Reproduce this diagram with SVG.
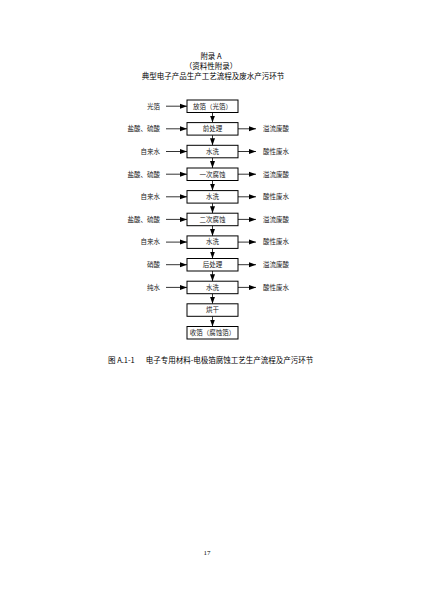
<svg xmlns="http://www.w3.org/2000/svg" width="422" height="596" viewBox="0 0 422 596">
<style>
.bg{fill:#fff}
.box{fill:#fff;stroke:#000;stroke-width:1}
.t{font-family:"Noto Sans CJK SC","Noto Sans",sans-serif;font-size:6.5px;fill:#222}
.c{text-anchor:middle}
.r{text-anchor:end}
.h{font-family:"Noto Sans CJK SC","Noto Sans",sans-serif;font-size:7.5px;fill:#000;text-anchor:middle}
.cap{font-family:"Noto Sans CJK SC","Noto Sans",sans-serif;font-size:7.5px;fill:#000}
.pg{font-family:"Liberation Serif",serif;font-size:7px;fill:#000;text-anchor:middle}
.ln{stroke:#000;stroke-width:0.8;fill:none;marker-end:url(#ah)}
</style>
<defs>
<marker id="ah" markerUnits="userSpaceOnUse" markerWidth="7" markerHeight="6" refX="7" refY="3" orient="auto">
<path d="M0,0.5 L7,3 L0,5.5 z" fill="#000"/>
</marker>
</defs>
<rect class="bg" x="0" y="0" width="422" height="596"/>
<g id="title">
<text class="h" x="211" y="58.6">附录 A</text>
<text class="h" x="211" y="68.6">（资料性附录）</text>
<text class="h" x="213" y="78.6">典型电子产品生产工艺流程及废水产污环节</text>
</g>
<g id="connectors">
<line class="ln" x1="212.5" y1="112.5" x2="212.5" y2="122.6"/>
<line class="ln" x1="212.5" y1="135.1" x2="212.5" y2="145.3"/>
<line class="ln" x1="212.5" y1="157.8" x2="212.5" y2="168"/>
<line class="ln" x1="212.5" y1="180.5" x2="212.5" y2="190.6"/>
<line class="ln" x1="212.5" y1="203.1" x2="212.5" y2="213.2"/>
<line class="ln" x1="212.5" y1="225.7" x2="212.5" y2="235.9"/>
<line class="ln" x1="212.5" y1="248.4" x2="212.5" y2="258.5"/>
<line class="ln" x1="212.5" y1="271" x2="212.5" y2="281.2"/>
<line class="ln" x1="212.5" y1="293.7" x2="212.5" y2="303.8"/>
<line class="ln" x1="212.5" y1="316.3" x2="212.5" y2="326.5"/>
<line class="ln" x1="166" y1="106.2" x2="187" y2="106.2"/>
<line class="ln" x1="166" y1="128.8" x2="187" y2="128.8"/>
<line class="ln" x1="166" y1="151.5" x2="187" y2="151.5"/>
<line class="ln" x1="166" y1="174.2" x2="187" y2="174.2"/>
<line class="ln" x1="166" y1="196.8" x2="187" y2="196.8"/>
<line class="ln" x1="166" y1="219.4" x2="187" y2="219.4"/>
<line class="ln" x1="166" y1="242.1" x2="187" y2="242.1"/>
<line class="ln" x1="166" y1="264.7" x2="187" y2="264.7"/>
<line class="ln" x1="166" y1="287.4" x2="187" y2="287.4"/>
<line class="ln" x1="238" y1="128.8" x2="256" y2="128.8"/>
<line class="ln" x1="238" y1="151.5" x2="256" y2="151.5"/>
<line class="ln" x1="238" y1="174.2" x2="256" y2="174.2"/>
<line class="ln" x1="238" y1="196.8" x2="256" y2="196.8"/>
<line class="ln" x1="238" y1="219.4" x2="256" y2="219.4"/>
<line class="ln" x1="238" y1="242.1" x2="256" y2="242.1"/>
<line class="ln" x1="238" y1="264.7" x2="256" y2="264.7"/>
<line class="ln" x1="238" y1="287.4" x2="256" y2="287.4"/>
</g>
<g id="inputs">
<text class="t r" x="160" y="108.5">光箔</text>
<text class="t r" x="160" y="131.1">盐酸、硫酸</text>
<text class="t r" x="160" y="153.8">自来水</text>
<text class="t r" x="160" y="176.5">盐酸、硫酸</text>
<text class="t r" x="160" y="199.1">自来水</text>
<text class="t r" x="160" y="221.7">盐酸、硫酸</text>
<text class="t r" x="160" y="244.4">自来水</text>
<text class="t r" x="160" y="267">硝酸</text>
<text class="t r" x="160" y="289.7">纯水</text>
</g>
<g id="outputs">
<text class="t" x="263" y="131.1">溢流废酸</text>
<text class="t" x="263" y="153.8">酸性废水</text>
<text class="t" x="263" y="176.5">溢流废酸</text>
<text class="t" x="263" y="199.1">酸性废水</text>
<text class="t" x="263" y="221.7">溢流废酸</text>
<text class="t" x="263" y="244.4">酸性废水</text>
<text class="t" x="263" y="267">溢流废酸</text>
<text class="t" x="263" y="289.7">酸性废水</text>
</g>
<g id="n0"><rect class="box" x="187" y="100" width="51" height="12.5"/><text class="t c" x="212.5" y="108.5">放箔（光箔）</text></g>
<g id="n1"><rect class="box" x="187" y="122.6" width="51" height="12.5"/><text class="t c" x="212.5" y="131.1">前处理</text></g>
<g id="n2"><rect class="box" x="187" y="145.3" width="51" height="12.5"/><text class="t c" x="212.5" y="153.8">水洗</text></g>
<g id="n3"><rect class="box" x="187" y="168" width="51" height="12.5"/><text class="t c" x="212.5" y="176.5">一次腐蚀</text></g>
<g id="n4"><rect class="box" x="187" y="190.6" width="51" height="12.5"/><text class="t c" x="212.5" y="199.1">水洗</text></g>
<g id="n5"><rect class="box" x="187" y="213.2" width="51" height="12.5"/><text class="t c" x="212.5" y="221.7">二次腐蚀</text></g>
<g id="n6"><rect class="box" x="187" y="235.9" width="51" height="12.5"/><text class="t c" x="212.5" y="244.4">水洗</text></g>
<g id="n7"><rect class="box" x="187" y="258.5" width="51" height="12.5"/><text class="t c" x="212.5" y="267">后处理</text></g>
<g id="n8"><rect class="box" x="187" y="281.2" width="51" height="12.5"/><text class="t c" x="212.5" y="289.7">水洗</text></g>
<g id="n9"><rect class="box" x="187" y="303.8" width="51" height="12.5"/><text class="t c" x="212.5" y="312.3">烘干</text></g>
<g id="n10"><rect class="box" x="187" y="326.5" width="51" height="12.5"/><text class="t c" x="212.5" y="335">收箔（腐蚀箔）</text></g>
<g id="caption">
<text class="cap" x="108" y="363.3">图 A.1-1</text>
<text class="cap" x="145.7" y="363.3">电子专用材料-电极箔腐蚀工艺生产流程及产污环节</text>
</g>
<text class="pg" x="207" y="555">17</text>
</svg>
